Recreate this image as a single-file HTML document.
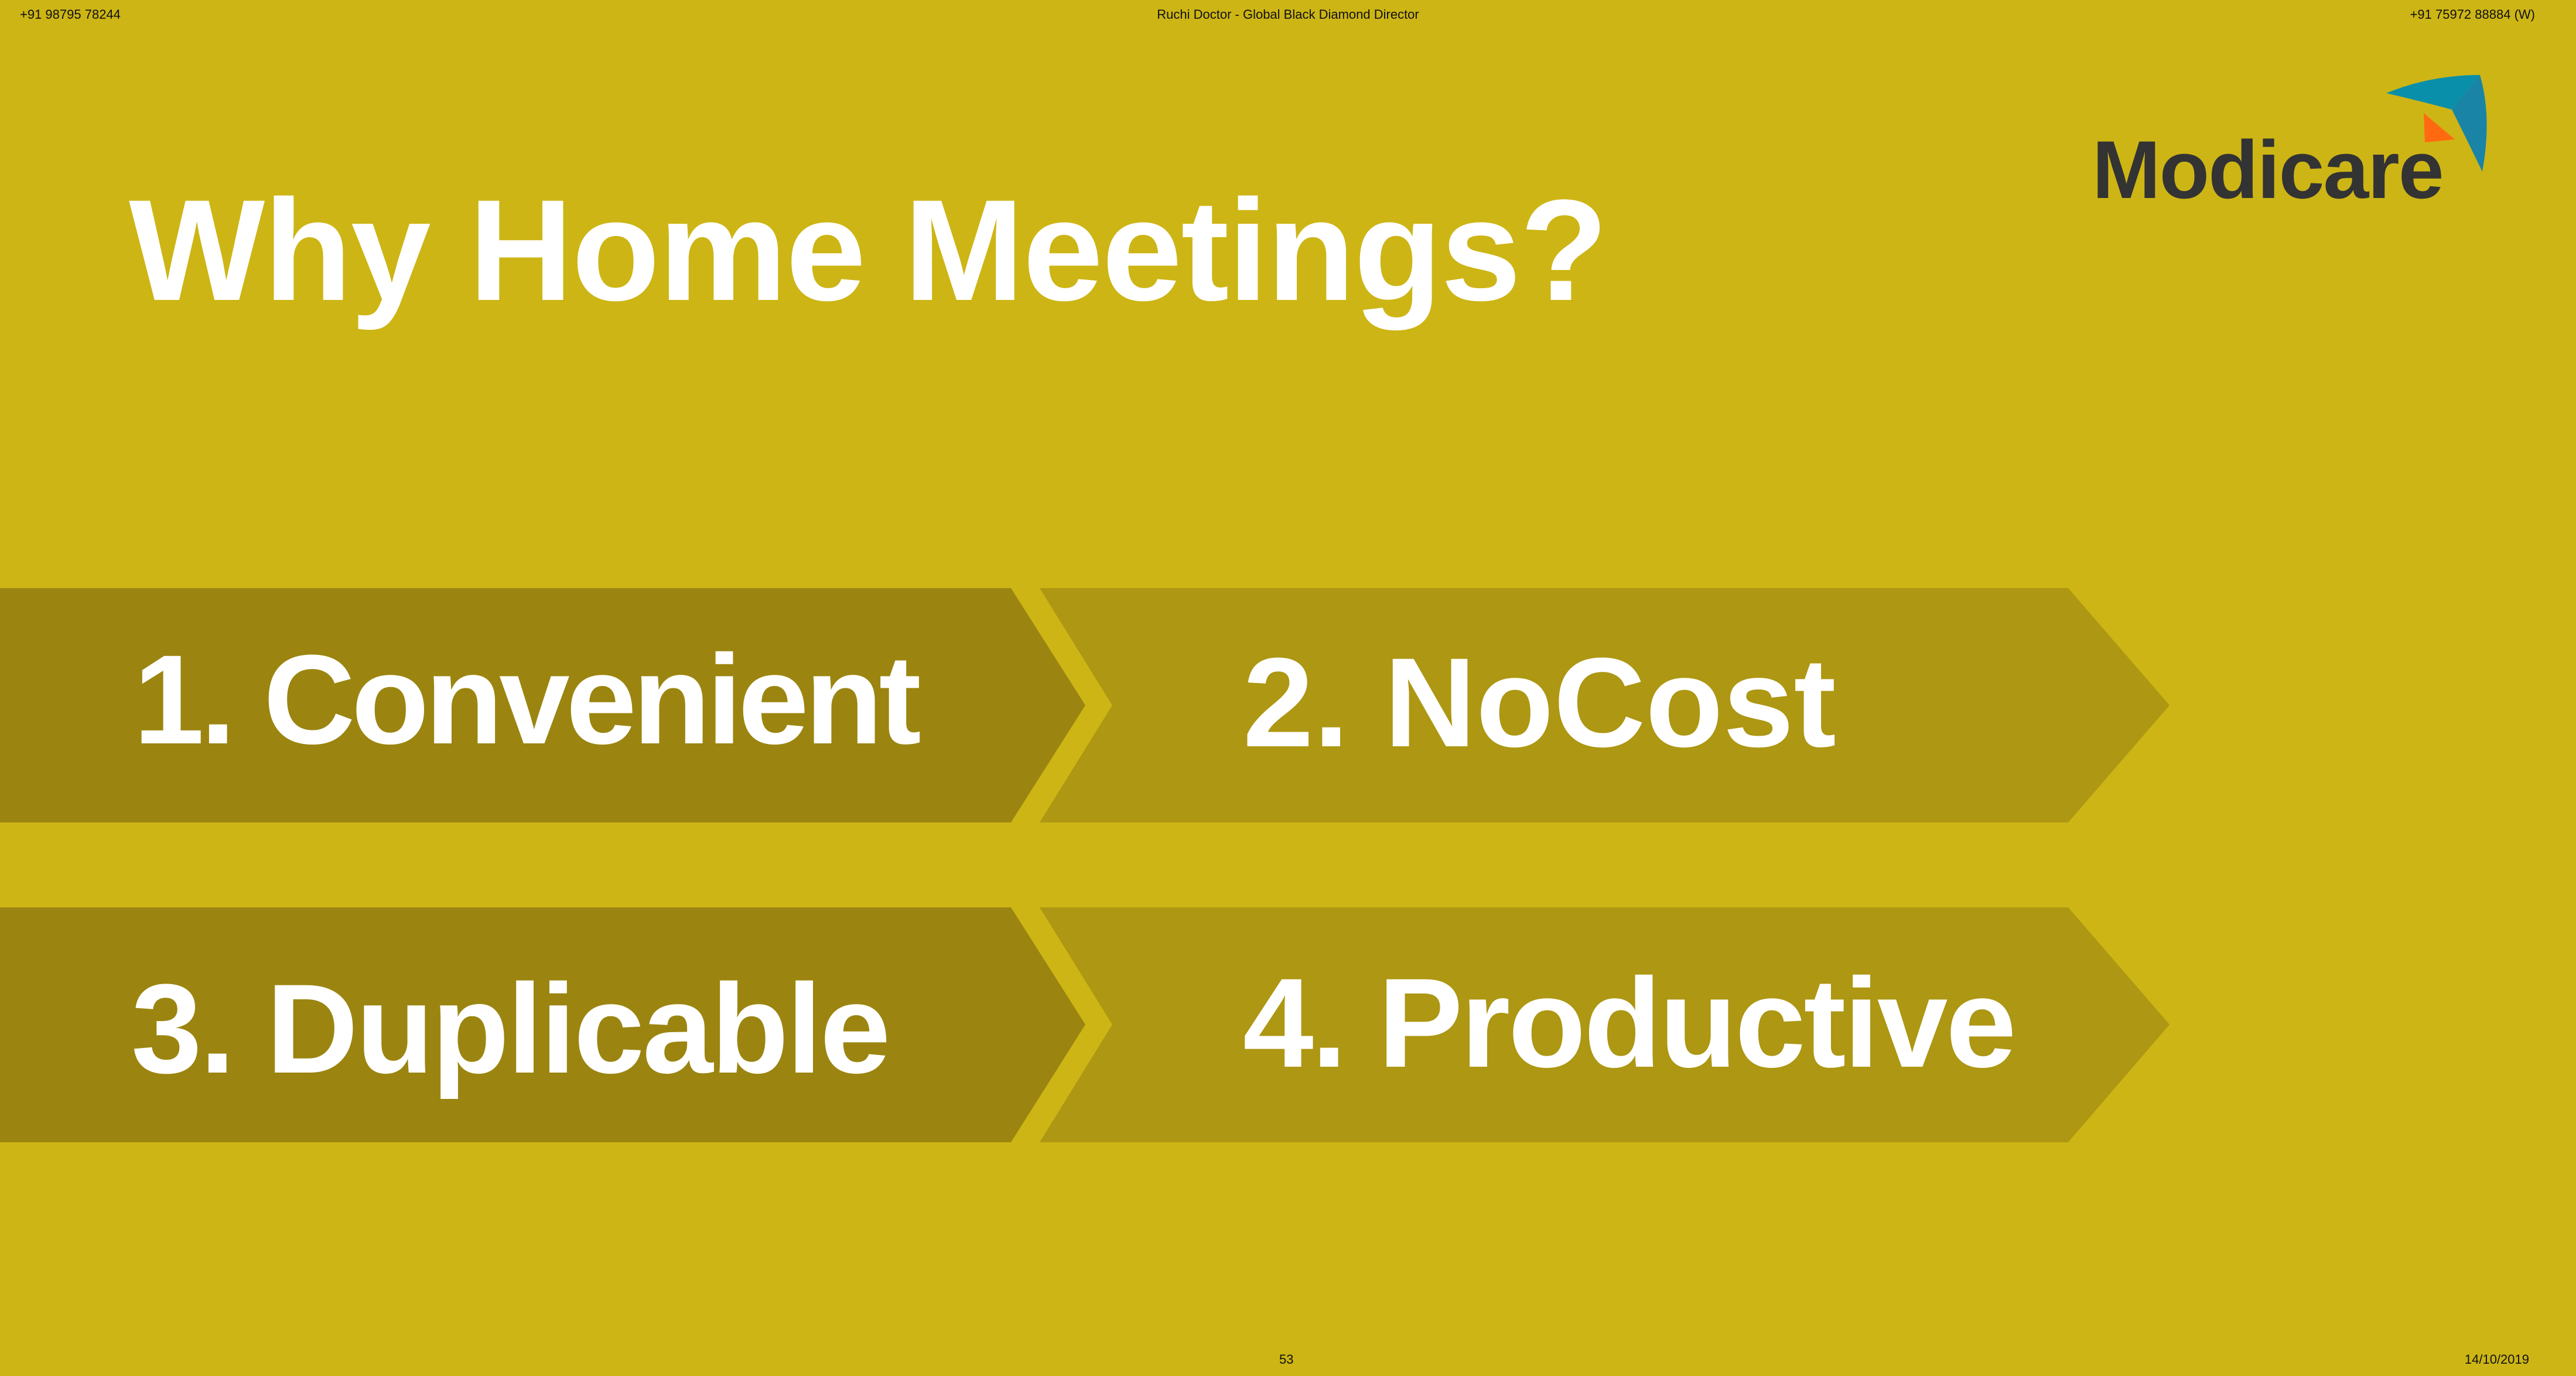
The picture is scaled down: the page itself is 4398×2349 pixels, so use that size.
<!DOCTYPE html>
<html><head><meta charset="utf-8"><style>
html,body{margin:0;padding:0}
body{width:4398px;height:2349px;background:#CDB515;position:relative;overflow:hidden;font-family:"Liberation Sans",Arial,sans-serif}
.t{position:absolute;white-space:nowrap}
.small{font-size:22px;color:#111;top:12px}
</style></head><body>
<div class="t small" style="left:34px">+91 98795 78244</div>
<div class="t small" style="left:0;width:4398px;text-align:center">Ruchi Doctor - Global Black Diamond Director</div>
<div class="t small" style="right:70px">+91 75972 88884 (W)</div>

<svg width="4398" height="2349" style="position:absolute;left:0;top:0">
<polygon points="0,1004 1726,1004 1853,1204 1726,1404 0,1404" fill="#9B8510"/>
<polygon points="1775,1004 3531,1004 3704,1204 3531,1404 1775,1404 1899,1204" fill="#AD9713"/>
<polygon points="0,1549 1726,1549 1853,1749 1726,1950 0,1950" fill="#9B8510"/>
<polygon points="1775,1549 3531,1549 3704,1749 3531,1950 1775,1950 1899,1749" fill="#AD9713"/>
<path d="M4074,159 Q4150,128 4234,128 L4186,187 Q4130,172 4074,159 Z" fill="#0A8FAA"/>
<path d="M4234,128 Q4255,200 4238,293 Q4210,235 4186,187 Z" fill="#1A84A6"/>
<polygon points="4138,193 4191,238 4140,243" fill="#FF6A10"/>
</svg>

<div class="t" style="left:3572px;top:220px;font-size:140px;font-weight:bold;color:#333;line-height:1;letter-spacing:-2px">Modicare</div>

<div class="t" style="left:220px;top:305px;font-size:246px;font-weight:bold;color:#fff;line-height:1;letter-spacing:-1.8px">Why Home Meetings?</div>

<div class="t" style="left:228px;top:1086px;font-size:217px;font-weight:bold;color:#fff;line-height:1;letter-spacing:-6.5px">1. Convenient</div>
<div class="t" style="left:2122px;top:1091px;font-size:217px;font-weight:bold;color:#fff;line-height:1">2. NoCost</div>
<div class="t" style="left:224px;top:1648px;font-size:217px;font-weight:bold;color:#fff;line-height:1;letter-spacing:-3.5px">3. Duplicable</div>
<div class="t" style="left:2122px;top:1638px;font-size:217px;font-weight:bold;color:#fff;line-height:1;letter-spacing:-3.5px">4. Productive</div>

<div class="t small" style="left:2184px;top:2308px">53</div>
<div class="t small" style="right:80px;top:2308px">14/10/2019</div>
</body></html>
